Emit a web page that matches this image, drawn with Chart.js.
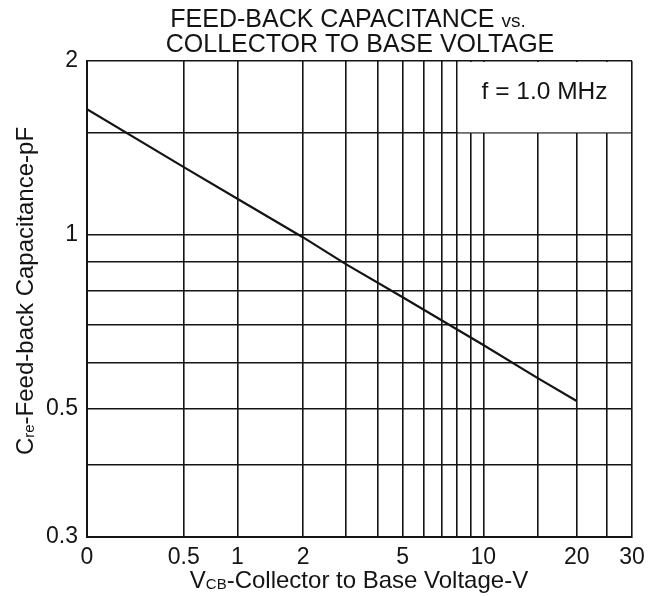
<!DOCTYPE html>
<html>
<head>
<meta charset="utf-8">
<script src="https://cdn.jsdelivr.net/npm/chart.js@4.4.1/dist/chart.umd.min.js"></script>
<style>
    html, body { margin: 0; padding: 0; background: #fff; }
    #wrap { width: 661px; height: 596px; position: relative; }
</style>
</head>
<body>
<div id="wrap"><canvas id="canvas-cre"></canvas></div>
<script>
'use strict';

/* global Chart */

// Valeurs (V, pF)
const voltage = [0, 0.5, 1, 2, 3, 5, 10, 15, 20];
const capacitance = [1.65, 1.31, 1.155, 0.99, 0.89, 0.78, 0.645, 0.565, 0.516];

// Quadrillage et graduations
const xGridValues = [0, 0.5, 1, 2, 3, 4, 5, 6, 7, 8, 9, 10, 15, 20, 25, 30];
const xTickLabels = [0, 0.5, 1, 2, 5, 10, 20, 30];
const yGridValues = [0.3, 0.4, 0.5, 0.6, 0.7, 0.8, 0.9, 1, 1.5, 2];
const yTickLabels = [0.3, 0.5, 1, 2];

const FONT = '"Liberation Sans", Arial, sans-serif';
const INK = '#141414';

// L'axe des tensions du document : log(V + 0.42), étiré au-delà de 10 V
const OFFSET = 0.42;
const STRETCH = 1.124;
const U10 = Math.log10(10 + OFFSET);

function warpV(v) {
    const u = Math.log10(v + OFFSET);
    return v > 10 ? U10 + (u - U10) * STRETCH : u;
}

function unwarpV(u) {
    if (u > U10) {
        u = U10 + (u - U10) / STRETCH;
    }
    return Math.pow(10, u) - OFFSET;
}

class VoltScale extends Chart.LinearScale {
    configure() {
        super.configure();
        this._wMin = warpV(this.min);
        this._wSpan = warpV(this.max) - this._wMin;
    }
    getPixelForValue(value) {
        return this.getPixelForDecimal((warpV(value) - this._wMin) / this._wSpan);
    }
    getValueForPixel(pixel) {
        return unwarpV(this._wMin + this.getDecimalForPixel(pixel) * this._wSpan);
    }
}
VoltScale.id = 'volt';
VoltScale.defaults = Chart.LinearScale.defaults;
Chart.register(VoltScale);

// texte avec indices (Vcb, Cre)
function drawParts(ctx, parts, x, y) {
    let total = 0;
    parts.forEach(p => {
        ctx.font = p.size + 'px ' + FONT;
        p.w = ctx.measureText(p.text).width;
        total += p.w;
    });
    let cx = x - total / 2;
    ctx.textAlign = 'left';
    ctx.textBaseline = 'alphabetic';
    parts.forEach(p => {
        ctx.font = p.size + 'px ' + FONT;
        ctx.fillText(p.text, cx, y + (p.dy || 0));
        cx += p.w;
    });
}

const freqBox = {
    id: 'freqBox',
    beforeDatasetsDraw(chart) {
        const { ctx, chartArea, scales } = chart;
        const left = scales.x.getPixelForValue(8);
        const bottom = scales.y.getPixelForValue(1.5);
        ctx.save();
        ctx.fillStyle = '#fff';
        ctx.fillRect(left + 0.8, chartArea.top + 1, chartArea.right - left - 1.8, bottom - chartArea.top - 1.8);
        ctx.fillStyle = INK;
        ctx.font = '24.5px ' + FONT;
        ctx.textAlign = 'center';
        ctx.textBaseline = 'middle';
        ctx.fillText('f = 1.0 MHz', (left + chartArea.right) / 2, (chartArea.top + bottom) / 2 - 5);
        ctx.restore();
    }
};

const labelsPlugin = {
    id: 'labelsPlugin',
    afterDraw(chart) {
        const ctx = chart.ctx;
        ctx.save();
        ctx.fillStyle = INK;
        drawParts(ctx, [{ text: 'FEED-BACK CAPACITANCE ', size: 25 }, { text: 'vs.', size: 19 }], 348, 27);
        drawParts(ctx, [{ text: 'COLLECTOR TO BASE VOLTAGE', size: 25 }], 360, 52);
        drawParts(ctx, [
            { text: 'V', size: 24 },
            { text: 'CB', size: 15, dy: 1 },
            { text: '-Collector to Base Voltage-V', size: 24 }
        ], 359, 588);
        ctx.translate(33, 291);
        ctx.rotate(-Math.PI / 2);
        drawParts(ctx, [
            { text: 'C', size: 24 },
            { text: 're', size: 15, dy: 1 },
            { text: '-Feed-back Capacitance-pF', size: 24 }
        ], 0, 0);
        ctx.restore();
    }
};

document.addEventListener('DOMContentLoaded', function () {
    const ctx = document.getElementById('canvas-cre').getContext('2d');

    const dataChartJs = {
        datasets: [
            {
                label: 'Cre',
                data: voltage.map((v, i) => ({ x: v, y: capacitance[i] })),
                borderColor: INK,
                borderWidth: 2.2,
                pointRadius: 0,
                tension: 0
            }
        ]
    };

    const optionsChartJs = {
        responsive: true,
        maintainAspectRatio: false,
        animation: false,
        layout: { padding: { top: 61, right: 29, bottom: 0, left: 0 } },
        plugins: {
            legend: { display: false },
            tooltip: { enabled: false }
        },
        scales: {
            x: {
                type: 'volt',
                min: 0,
                max: 30,
                afterBuildTicks: axis => {
                    axis.ticks = xGridValues.map(v => ({ value: v }));
                },
                afterFit: axis => { axis.height = 59; },
                grid: { color: INK, lineWidth: 1.6, drawTicks: false },
                border: { color: INK, width: 2 },
                ticks: {
                    autoSkip: false,
                    maxRotation: 0,
                    padding: 7,
                    color: INK,
                    font: { family: FONT, size: 23 },
                    callback: v => (xTickLabels.includes(v) ? String(v) : '')
                }
            },
            y: {
                type: 'logarithmic',
                min: 0.3,
                max: 2,
                afterBuildTicks: axis => {
                    axis.ticks = yGridValues.map(v => ({ value: v }));
                },
                afterFit: axis => { axis.width = 87; },
                grid: { color: INK, lineWidth: 1.6, drawTicks: false },
                border: { color: INK, width: 2 },
                ticks: {
                    autoSkip: false,
                    padding: 9,
                    color: INK,
                    font: { family: FONT, size: 23 },
                    callback: v => (yTickLabels.includes(v) ? String(v) : '')
                }
            }
        }
    };

    // eslint-disable-next-line no-unused-vars
    let diagChartJs = new Chart(ctx, {
        type: 'line',
        data: dataChartJs,
        options: optionsChartJs,
        plugins: [freqBox, labelsPlugin]
    });
});
</script>
</body>
</html>
